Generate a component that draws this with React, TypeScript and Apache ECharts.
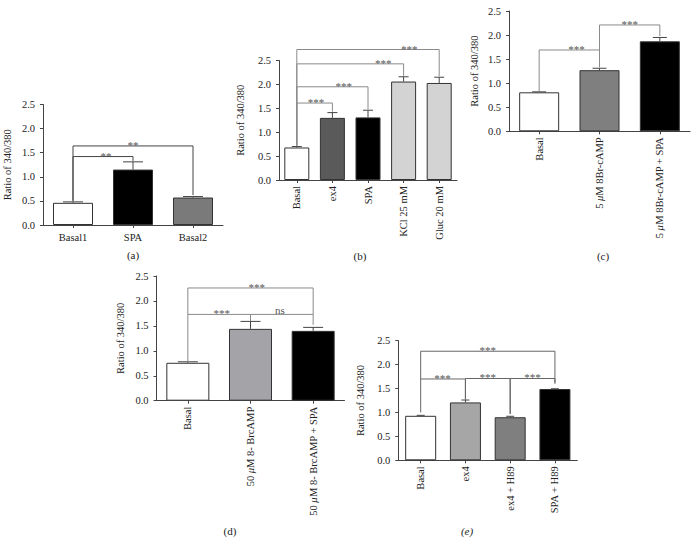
import React, { useEffect, useRef } from "react";
import * as echarts from "echarts";

const FONT = "Liberation Serif";

// ---------- Panel (a) ----------
const catsA = ["Basal1", "SPA", "Basal2"];
const meanA = [0.46, 1.15, 0.57];
const semA = [0.02, 0.16, 0.02];
// [from, to, level, leftEnd, rightEnd, labelPos]
const bracketsA = [
  [0, 1, 1.42, 0.5, 1.33, 0.55],
  [0, 2, 1.64, 0.5, 0.62, 0.5],
];
const labelsA = ["**", "**"];

// ---------- Panel (b) ----------
const catsB = ["Basal", "ex4", "SPA", "KCl 25 mM", "Gluc 20 mM"];
const meanB = [0.68, 1.3, 1.31, 2.06, 2.03];
const semB = [0.02, 0.11, 0.15, 0.1, 0.12];
const bracketsB = [
  [0, 1, 1.61, 0.72, 1.43, 0.54],
  [0, 2, 1.95, 0.72, 1.48, 0.66],
  [0, 3, 2.43, 0.72, 2.18, 0.81],
  [0, 4, 2.73, 0.72, 2.17, 0.79],
];
const labelsB = ["***", "***", "***", "***"];

// ---------- Panel (c) ----------
const catsC = ["Basal", "5 μM 8Br-cAMP", "5 μM 8Br-cAMP + SPA"];
const meanC = [0.81, 1.27, 1.87];
const semC = [0.01, 0.04, 0.08];
const bracketsC = [
  [0, 1, 1.69, 0.83, 1.33, 0.62],
  [1, 2, 2.21, 1.69, 1.98, 0.5],
];
const labelsC = ["***", "***"];

// ---------- Panel (d) ----------
const catsD = ["Basal", "50 μM 8- BrcAMP", "50 μM 8- BrcAMP + SPA"];
const meanD = [0.76, 1.44, 1.4];
const semD = [0.02, 0.15, 0.07];
const bracketsD = [
  [0, 1, 1.73, 0.78, 1.6, 0.54],
  [1, 2, 1.73, 1.6, 1.52, 0.47],
  [0, 2, 2.26, 1.73, 1.73, 0.55],
];
const labelsD = ["***", "ns", "***"];

// ---------- Panel (e) ----------
const catsE = ["Basal", "ex4", "ex4 + H89", "SPA + H89"];
const meanE = [0.93, 1.21, 0.9, 1.49];
const semE = [0.01, 0.05, 0.02, 0.005];
const bracketsE = [
  [0, 1, 1.7, 1.0, 1.27, 0.49],
  [1, 2, 1.71, 1.27, 0.97, 0.5],
  [2, 3, 1.71, 0.97, 1.6, 0.5],
  [0, 3, 2.28, 1.7, 1.62, 0.5],
];
const labelsE = ["***", "***", "***", "***"];

type Panel = {
  cats: string[];
  mean: number[];
  sem: number[];
  colors: string[];
  brackets: number[][];
  labels: string[];
  grid: { left: number; top: number; width: number; height: number };
  barWidth: number;
  capW: number;
  rotate: number;
  nameGap: number;
  lineColor: string;
  tag: string;
  tagPos: [number, number];
  tagItalic?: boolean;
};

const panels: Panel[] = [
  {
    cats: catsA, mean: meanA, sem: semA,
    colors: ["#ffffff", "#000000", "#7a7a7a"],
    brackets: bracketsA, labels: labelsA,
    grid: { left: 43, top: 104.5, width: 180, height: 120.5 },
    barWidth: 40, capW: 20, rotate: 0, nameGap: 30, lineColor: "#444",
    tag: "(a)", tagPos: [133, 255],
  },
  {
    cats: catsB, mean: meanB, sem: semB,
    colors: ["#ffffff", "#5a5a5a", "#000000", "#d3d3d3", "#d3d3d3"],
    brackets: bracketsB, labels: labelsB,
    grid: { left: 279, top: 60.5, width: 178, height: 119.5 },
    barWidth: 25, capW: 10, rotate: 90, nameGap: 33, lineColor: "#8a8a8a",
    tag: "(b)", tagPos: [360, 256],
  },
  {
    cats: catsC, mean: meanC, sem: semC,
    colors: ["#ffffff", "#7f7f7f", "#000000"],
    brackets: bracketsC, labels: labelsC,
    grid: { left: 509, top: 11, width: 181, height: 120.3 },
    barWidth: 40, capW: 14, rotate: 90, nameGap: 29, lineColor: "#8a8a8a",
    tag: "(c)", tagPos: [603, 256],
  },
  {
    cats: catsD, mean: meanD, sem: semD,
    colors: ["#ffffff", "#a3a3a8", "#000000"],
    brackets: bracketsD, labels: labelsD,
    grid: { left: 156.5, top: 276, width: 188, height: 124.7 },
    barWidth: 43, capW: 20, rotate: 90, nameGap: 31, lineColor: "#8a8a8a",
    tag: "(d)", tagPos: [230, 531],
  },
  {
    cats: catsE, mean: meanE, sem: semE,
    colors: ["#ffffff", "#a6a6a6", "#7f7f7f", "#000000"],
    brackets: bracketsE, labels: labelsE,
    grid: { left: 398.3, top: 340.7, width: 179, height: 119.6 },
    barWidth: 31, capW: 8, rotate: 90, nameGap: 32, lineColor: "#666",
    tag: "(e)", tagPos: [467, 531], tagItalic: true,
  },
];

function buildOption() {
  const grid: any[] = [];
  const xAxis: any[] = [];
  const yAxis: any[] = [];
  const series: any[] = [];
  const graphic: any[] = [];

  panels.forEach((p, i) => {
    grid.push({ ...p.grid, containLabel: false });
    xAxis.push({
      type: "category",
      gridIndex: i,
      data: p.cats,
      axisLine: { show: true, lineStyle: { color: "#444", width: 1 } },
      axisTick: { show: true, alignWithLabel: true, length: 3, lineStyle: { color: "#444" } },
      axisLabel: {
        interval: 0,
        rotate: p.rotate,
        margin: p.rotate ? 6 : 7,
        fontFamily: FONT,
        fontSize: 10.5,
        color: "#222",
        formatter: (v: string) => v.replace("μ", "{i|μ}"),
        rich: { i: { fontStyle: "italic", fontFamily: FONT, fontSize: 10.5, color: "#222" } },
      },
      splitLine: { show: false },
    });
    yAxis.push({
      type: "value",
      gridIndex: i,
      min: 0,
      max: 2.5,
      interval: 0.5,
      name: "Ratio of 340/380",
      nameLocation: "middle",
      nameGap: p.nameGap,
      nameRotate: 90,
      nameTextStyle: { fontFamily: FONT, fontSize: 10.5, color: "#222" },
      axisLine: { show: true, lineStyle: { color: "#444", width: 1 } },
      axisTick: { show: true, length: 3, lineStyle: { color: "#444" } },
      axisLabel: {
        margin: 8,
        fontFamily: FONT,
        fontSize: 10.5,
        color: "#222",
        formatter: (v: number) => v.toFixed(1),
      },
      splitLine: { show: false },
    });

    series.push({
      type: "bar",
      xAxisIndex: i,
      yAxisIndex: i,
      barWidth: p.barWidth,
      z: 2,
      data: p.mean.map((v, k) => ({
        value: v,
        itemStyle: { color: p.colors[k], borderColor: "#333", borderWidth: 1 },
      })),
    });

    const lc = p.lineColor;
    const capW = p.capW;
    series.push({
      type: "custom",
      xAxisIndex: i,
      yAxisIndex: i,
      z: 3,
      data: p.mean.map((v, k) => [k, v, v + p.sem[k]]),
      renderItem: (params: any, api: any) => {
        const x = api.value(0);
        const a = api.coord([x, api.value(1)]);
        const b = api.coord([x, api.value(2)]);
        return {
          type: "group",
          children: [
            { type: "line", shape: { x1: a[0], y1: a[1], x2: b[0], y2: b[1] }, style: { stroke: "#444", lineWidth: 1 } },
            { type: "line", shape: { x1: b[0] - capW / 2, y1: b[1], x2: b[0] + capW / 2, y2: b[1] }, style: { stroke: "#444", lineWidth: 1 } },
          ],
        };
      },
    });

    const labels = p.labels;
    series.push({
      type: "custom",
      xAxisIndex: i,
      yAxisIndex: i,
      z: 4,
      clip: false,
      data: p.brackets.map((b) => [b[0], b[2], b[1], b[3], b[4], b[5]]),
      renderItem: (params: any, api: any) => {
        const f = api.value(0);
        const lv = api.value(1);
        const to = api.value(2);
        const le = api.value(3);
        const re = api.value(4);
        const t = api.value(5);
        const pa = api.coord([f, le]);
        const pb = api.coord([f, lv]);
        const pc = api.coord([to, lv]);
        const pd = api.coord([to, re]);
        const lab = labels[params.dataIndex];
        const tx = pb[0] + t * (pc[0] - pb[0]);
        return {
          type: "group",
          children: [
            {
              type: "polyline",
              shape: { points: [pa, pb, pc, pd] },
              style: { stroke: lc, lineWidth: 1, fill: "none" },
            },
            {
              type: "text",
              x: tx,
              y: lab === "ns" ? pb[1] + 1 : pb[1] - 1,
              style: {
                text: lab,
                align: "center",
                verticalAlign: lab === "ns" ? "bottom" : "middle",
                fontSize: 11,
                fontFamily: FONT,
                fill: "#555555",
              },
            },
          ],
        };
      },
    });

    graphic.push({
      type: "text",
      x: p.tagPos[0],
      y: p.tagPos[1],
      style: {
        text: p.tag,
        align: "center",
        verticalAlign: "middle",
        fontSize: 11,
        fontFamily: FONT,
        fontStyle: p.tagItalic ? "italic" : "normal",
        fill: "#222",
      },
    });
  });

  return {
    animation: false,
    backgroundColor: "#ffffff",
    grid,
    xAxis,
    yAxis,
    series,
    graphic,
  };
}

export default function App() {
  const ref = useRef<HTMLDivElement>(null);
  useEffect(() => {
    if (!ref.current) return;
    const chart = echarts.init(ref.current, undefined, { renderer: "svg" });
    chart.setOption(buildOption() as any);
    return () => chart.dispose();
  }, []);
  return (
    <div
      ref={ref}
      style={{ position: "fixed", left: 0, top: 0, width: 697, height: 553, background: "#fff" }}
    />
  );
}
